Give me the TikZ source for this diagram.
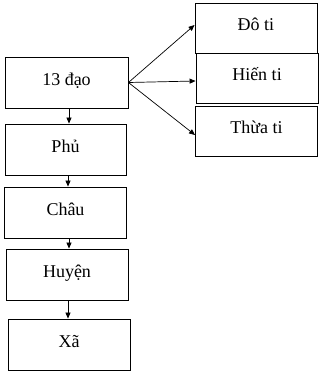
\documentclass[tikz,border=0pt]{standalone}
\usepackage{fontspec}
\setmainfont{Liberation Serif}
\usepackage{tikz}
\usetikzlibrary{arrows.meta,calc}

\begin{document}
\begin{tikzpicture}[
  x=1pt, y=-1pt,
  % ── node styles ──────────────────────────────────────────────────────────
  unit/.style={
    draw=black, line width=0.9pt,
    rectangle, minimum width=122pt, minimum height=51pt,
    inner sep=0pt, fill=white,
    text height=12pt, text depth=7pt,
    font=\fontsize{18}{20}\selectfont
  },
  % arrow from one level to the next
  link/.style={
    draw=black, line width=0.7pt,
    -{Triangle[length=6pt,width=5pt]}
  },
]

\useasboundingbox (0,0) rectangle (324,376);

% ── Left column ─────────────────────────────────────────────────────────────
\node[unit, minimum width=123pt] (dao)   at (66.5, 82.5)  {13 đạo};
\node[unit, minimum width=121pt] (phu)   at (65.5, 149.5) {Phủ};
\node[unit]                      (chau)  at (65.5, 212.5) {Châu};
\node[unit]                      (huyen) at (67,   274.5) {Huyện};
\node[unit]                      (xa)    at (69,   344.5) {Xã};

% ── Right column ────────────────────────────────────────────────────────────
\node[unit, minimum height=50pt] (doti)   at (256,   28)  {Đô ti};
\node[unit, minimum height=50pt] (hienti) at (257,   78)  {Hiến ti};
\node[unit, minimum height=50pt] (thuati) at (256.5, 131) {Thừa ti};

% ── Vertical arrows ─────────────────────────────────────────────────────────
\foreach \up/\dn/\xx in {dao/phu/69, phu/chau/68, chau/huyen/69, huyen/xa/68}{
  \draw[link] (\xx, 0 |- \up.south) -- (\xx, 0 |- \dn.north);
}

% ── Branch arrows ───────────────────────────────────────────────────────────
\draw[link] (dao.east) -- ([yshift=3pt]doti.west);
\draw[link] (dao.east) -- ([yshift=-3pt]hienti.west);
\draw[link] (dao.east) -- ([yshift=-4pt]thuati.west);

\end{tikzpicture}
\end{document}
